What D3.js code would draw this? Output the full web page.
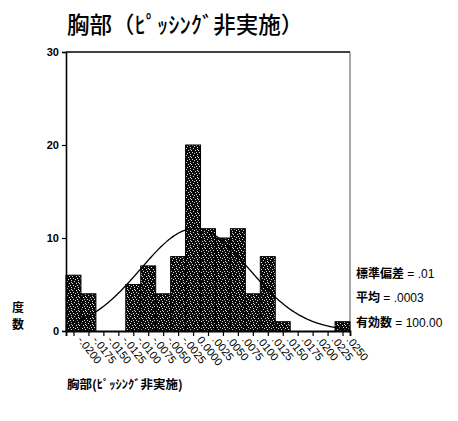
<!DOCTYPE html>
<html>
<head>
<meta charset="utf-8">
<script src="https://cdn.jsdelivr.net/npm/d3@7"></script>
<style>
  html, body { margin: 0; padding: 0; background: #fff; }
  svg { display: block; }
</style>
</head>
<body>
<svg id="chart" width="458" height="421"></svg>
<script>
// Histogram bins (centres) and their counts
const binCenters = [-0.0200, -0.0175, -0.0150, -0.0125, -0.0100, -0.0075, -0.0050, -0.0025,
                    0.0000, 0.0025, 0.0050, 0.0075, 0.0100, 0.0125, 0.0150, 0.0175, 0.0200, 0.0225, 0.0250];
const binLabels = ["-.0200", "-.0175", "-.0150", "-.0125", "-.0100", "-.0075", "-.0050", "-.0025",
                   "0.0000", ".0025", ".0050", ".0075", ".0100", ".0125", ".0150", ".0175", ".0200", ".0225", ".0250"];
const counts = [6, 4, 0, 0, 5, 7, 4, 8, 20, 11, 10, 11, 4, 8, 1, 0, 0, 0, 1];
const yTicks = [0, 10, 20, 30];
const binWidth = 0.0025;

// Summary statistics shown beside the plot
const statLines = [
  ["標準偏差", " = .01"],
  ["平均", " = .0003"],
  ["有効数", " = 100.00"]
];
const meanValue = 0.0003;

const titleText = "胸部（ﾋﾟｯｼﾝｸﾞ非実施）";
const xTitleText = "胸部(ﾋﾟｯｼﾝｸﾞ非実施)";
const yTitleChars = ["度", "数"];

const svg = d3.select("#chart");
const plotL = 66, plotR = 350, plotT = 52, plotB = 331;

const x = d3.scaleLinear()
  .domain([binCenters[0] - binWidth / 2, binCenters[binCenters.length - 1] + binWidth / 2])
  .range([plotL, plotR]);
const y = d3.scaleLinear().domain([0, 30]).range([plotB, plotT]);

const cjk = "'Noto Sans CJK JP', 'Noto Sans', sans-serif";
const latin = "'Liberation Sans', Arial, sans-serif";

// Speckled dark fill for the bars
const defs = svg.append("defs");
const pat = defs.append("pattern")
  .attr("id", "speckle").attr("width", 7).attr("height", 7)
  .attr("patternUnits", "userSpaceOnUse");
pat.append("rect").attr("width", 7).attr("height", 7).attr("fill", "#0a0a0a");
[[1,0],[4,1],[2,3],[6,3],[0,5],[3,5],[5,6],[1,2]].forEach(([px, py]) => {
  pat.append("rect").attr("x", px).attr("y", py).attr("width", 1).attr("height", 1)
    .attr("fill", "#d8d8d8");
});

// Title
svg.append("text")
  .attr("x", 67).attr("y", 33)
  .attr("font-family", cjk).attr("font-size", 22.5).attr("font-weight", 500)
  .attr("fill", "#000")
  .text(titleText);

// Plot frame: top and right borders
svg.append("line").attr("x1", plotL).attr("x2", plotR).attr("y1", plotT).attr("y2", plotT)
  .attr("stroke", "#000").attr("stroke-width", 1.6);
svg.append("line").attr("x1", plotR).attr("x2", plotR).attr("y1", plotT).attr("y2", plotB)
  .attr("stroke", "#555").attr("stroke-width", 1);

// Normal curve using the stated mean and the spread of the binned data
const n = d3.sum(counts);
const values = [];
binCenters.forEach((c, i) => { for (let k = 0; k < counts[i]; k++) values.push(c); });
const sd = d3.deviation(values);
const scaleFactor = n * binWidth / (sd * Math.sqrt(2 * Math.PI));
const curvePts = d3.range(0, 201).map(i => {
  const v = x.domain()[0] + (x.domain()[1] - x.domain()[0]) * i / 200;
  const z = (v - meanValue) / sd;
  return [v, scaleFactor * Math.exp(-0.5 * z * z)];
});

// Bars
svg.append("g").selectAll("rect")
  .data(binCenters.map((c, i) => ({ c, v: counts[i] })).filter(d => d.v > 0))
  .join("rect")
  .attr("x", d => x(d.c - binWidth / 2))
  .attr("y", d => y(d.v))
  .attr("width", d => x(d.c + binWidth / 2) - x(d.c - binWidth / 2))
  .attr("height", d => y(0) - y(d.v))
  .attr("fill", "url(#speckle)")
  .attr("stroke", "#000").attr("stroke-width", 1);

svg.append("path")
  .datum(curvePts)
  .attr("d", d3.line().x(d => x(d[0])).y(d => y(d[1])).curve(d3.curveBasis))
  .attr("fill", "none").attr("stroke", "#000").attr("stroke-width", 1.3);

// Y axis
const yAxis = svg.append("g")
  .attr("transform", `translate(${plotL},0)`)
  .call(d3.axisLeft(y).tickValues(yTicks).tickSize(4).tickFormat(d3.format("d")));
yAxis.select(".domain").attr("stroke", "#000").attr("stroke-width", 1.6);
yAxis.selectAll(".tick line").attr("stroke", "#000").attr("stroke-width", 1.2);
yAxis.selectAll(".tick text")
  .attr("font-family", latin).attr("font-size", 11).attr("font-weight", "bold")
  .attr("x", -7).attr("fill", "#000");

// X axis
const xAxis = svg.append("g")
  .attr("transform", `translate(0,${plotB})`)
  .call(d3.axisBottom(x).tickValues(binCenters).tickSize(5)
    .tickFormat((d, i) => binLabels[i]));
xAxis.select(".domain").attr("stroke", "#000").attr("stroke-width", 1.8);
xAxis.selectAll(".tick line").attr("stroke", "#000").attr("stroke-width", 1.2);
xAxis.selectAll(".tick text")
  .attr("font-family", latin).attr("font-size", 11).attr("fill", "#000")
  .attr("text-anchor", "start")
  .attr("dy", 0)
  .attr("transform", "translate(3,9) rotate(52)")
  .attr("x", 0).attr("y", 0);

// Y axis title (stacked vertically)
yTitleChars.forEach((ch, i) => {
  svg.append("text")
    .attr("x", 12).attr("y", 312 + i * 16.5)
    .attr("font-family", cjk).attr("font-size", 12).attr("font-weight", "bold")
    .attr("fill", "#000")
    .text(ch);
});

// X axis title
svg.append("text")
  .attr("x", 67).attr("y", 389)
  .attr("font-family", cjk).attr("font-size", 12.5).attr("font-weight", "bold")
  .attr("fill", "#000")
  .text(xTitleText);

// Statistics block
statLines.forEach((s, i) => {
  const t = svg.append("text")
    .attr("x", 356).attr("y", 278 + i * 24.3)
    .attr("fill", "#000");
  t.append("tspan").attr("font-family", cjk).attr("font-size", 12).attr("font-weight", "bold").text(s[0]);
  t.append("tspan").attr("font-family", latin).attr("font-size", 12).text(s[1]);
});
</script>
</body>
</html>
